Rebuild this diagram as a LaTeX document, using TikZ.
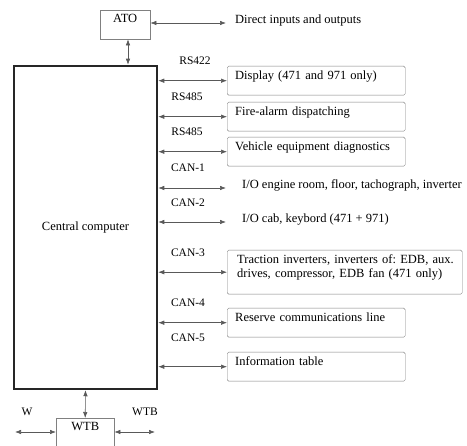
\documentclass[tikz,border=0pt]{standalone}
\usepackage{fontspec}
\setmainfont{Liberation Serif}
\usetikzlibrary{arrows.meta}

\begin{document}
\begin{tikzpicture}[x=1pt,y=-1pt,font=\rmfamily\fontsize{12.5}{14}\selectfont\frenchspacing]

\tikzset{cpu/.style = {shape=rectangle,draw=black!85,line width=2.5pt,anchor=north west,minimum width=143pt,minimum height=323pt}}
\tikzset{port/.style = {shape=rectangle,draw=black!50,anchor=north west,minimum width=52pt,inner sep=3pt,text height=9pt,text depth=17pt}}
\tikzset{unit/.style = {shape=rectangle,draw=black!50,rounded corners=1.5pt,anchor=north west,text width=162pt,inner xsep=8pt,inner ysep=3pt,align=left,text height=10.5pt,text depth=12.5pt}}
\tikzset{io/.style = {anchor=west,inner xsep=16pt,text depth=8pt}}
\tikzset{bus/.style = {font=\rmfamily\fontsize{11.5}{13}\selectfont}}
\tikzset{edge/.style = {<->,>={Latex[length=6pt,width=4.5pt]},draw=black!65,line width=0.6pt}}

\useasboundingbox (0,0) rectangle (467,446);
\clip (0,0) rectangle (467,446);

% blocks
\node[port,minimum width=50pt,text depth=14pt] (ato) at (100,10) {ATO};
\node[cpu] (cc) at (12.75,64.75) {Central computer};
\node[port,minimum width=58pt] (wtb) at (56,418) {WTB};

\node[unit] (disp) at (227,66) {Display (471 and 971 only)};
\node[unit] (fire) at (227,102) {Fire-alarm dispatching};
\node[unit] (diag) at (227,137) {Vehicle equipment diagnostics};
\node[unit,text width=225pt,inner xsep=5pt,text depth=27.5pt] (trac) at (227,250) {\hspace*{5pt}Traction inverters, inverters of: EDB, aux.\\\hspace*{5pt}drives, compressor, EDB fan (471 only)};
\node[unit] (res) at (227,308) {Reserve communications line};
\node[unit] (info) at (227,352) {Information table};

\node[io,inner xsep=9pt] (dio) at (226,23) {Direct inputs and outputs};
\node[io] (io1) at (226,188) {I/O engine room, floor, tachograph, inverter};
\node[io] (io2) at (226,222) {I/O cab, keybord (471 + 971)};

\coordinate (wl) at (15,432);
\coordinate (wr) at (155,432);

% bus labels
\node[bus] (rs1) at (195,61) {RS422};
\node[bus] (rs2) at (187,97) {RS485};
\node[bus] (rs3) at (187,132) {RS485};
\node[bus] (can1) at (188,168) {CAN-1};
\node[bus] (can2) at (188,203) {CAN-2};
\node[bus] (can3) at (188,253) {CAN-3};
\node[bus] (can4) at (188,303) {CAN-4};
\node[bus] (can5) at (188,338) {CAN-5};
\node[bus] (wlab) at (27,412) {W};
\node[bus] (wtblab) at (145,412) {WTB};

% edges
\draw[edge] (ato.east |- dio.west) -- (dio.west);
\draw[edge] (ato.south -| 128,0) -- (cc.north -| 128,0);
\draw[edge] (cc.east |- disp.west) -- (disp.west);
\draw[edge] (cc.east |- fire.west) -- (fire.west);
\draw[edge] (cc.east |- diag.west) -- (diag.west);
\draw[edge] (cc.east |- io1.west) -- (io1.west);
\draw[edge] (cc.east |- io2.west) -- (io2.west);
\draw[edge] (cc.east |- trac.west) -- (trac.west);
\draw[edge] (cc.east |- res.west) -- (res.west);
\draw[edge] (cc.east |- info.west) -- (info.west);
\draw[edge] (cc.south) -- (wtb.north);
\draw[edge] (wl) -- (wl -| wtb.west);
\draw[edge] (wtb.east |- wr) -- (wr);
\end{tikzpicture}
\end{document}
